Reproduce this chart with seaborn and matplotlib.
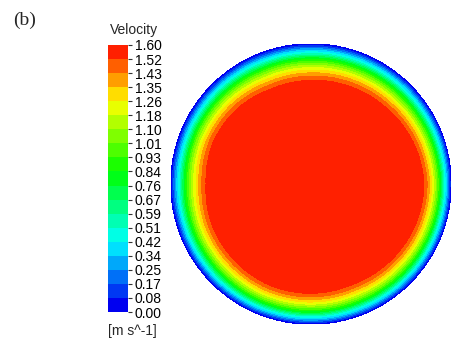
import numpy as np
import matplotlib
matplotlib.use("Agg")
import matplotlib.pyplot as plt
from matplotlib.colors import LinearSegmentedColormap, ListedColormap, BoundaryNorm
import seaborn as sns

# Contour levels of the velocity legend (m/s)
v_max = 1.602
tick_labels = ["0.00", "0.08", "0.17", "0.25", "0.34", "0.42", "0.51", "0.59",
               "0.67", "0.76", "0.84", "0.93", "1.01", "1.10", "1.18", "1.26",
               "1.35", "1.43", "1.52", "1.60"]

# Radial velocity profile: distance from the pipe wall (px at R = 140) -> velocity
wall_dist_px = [0, 2, 4, 6, 9, 13, 17, 21, 25, 29, 34, 50, 140]
velocity = [0.0, 0.10, 0.22, 0.34, 0.50, 0.76, 0.98, 1.15, 1.30, 1.42, 1.53, 1.575, 1.60]

# Boundary-layer thickness factor around the section (deg, counter-clockwise from +x)
angle_deg = [0, 22.5, 45, 67.5, 90, 112.5, 135, 157.5,
             180, 202.5, 225, 247.5, 270, 292.5, 315, 337.5]
thickness = [0.82, 0.90, 1.00, 1.06, 1.10, 1.12, 1.05, 1.02,
             1.06, 1.00, 0.97, 0.93, 0.93, 0.95, 0.90, 0.85]

# Rainbow legend colours (blue -> cyan -> green -> yellow -> red), 19 bands
anchors = [(0.0, "#0000f0"), (4.5 / 18, "#00ffff"), (9.5 / 18, "#00ff00"),
           (14.5 / 18, "#ffff00"), (1.0, "#ff2000")]

sns.set_theme(style="white")
plt.rcParams["font.family"] = ["Liberation Sans", "DejaVu Sans"]

n_bands = len(tick_labels) - 1
levels = np.linspace(0.0, v_max, n_bands + 1)
base = LinearSegmentedColormap.from_list("fluent", anchors)
cmap = ListedColormap([base(i / (n_bands - 1)) for i in range(n_bands)])
norm = BoundaryNorm(levels, cmap.N)

# Velocity field on the circular cross-section
R_px = 140.0
n = 700
x = np.linspace(-1.0, 1.0, n)
X, Y = np.meshgrid(x, x)
r = np.hypot(X, Y)
theta = np.degrees(np.arctan2(Y, X)) % 360
fac = np.interp(theta, angle_deg, thickness, period=360)
d = np.clip(1.0 - r, 0, None) * R_px / fac
U = np.interp(d, wall_dist_px, velocity)
U = np.ma.masked_where(r > 1.0, U)

W, H = 452, 345
fig = plt.figure(figsize=(W / 100, H / 100), dpi=100)
fig.patch.set_facecolor("white")

ax = fig.add_axes([171 / W, 1 - 324 / H, 280 / W, 280 / H])
cf = ax.contourf(X, Y, U, levels=levels, cmap=cmap, norm=norm)
cf.set_edgecolor("face")
cf.set_linewidth(0.6)
ax.set_xlim(-1.0, 1.0)
ax.set_ylim(-1.0, 1.0)
ax.set_aspect("equal")
ax.axis("off")

cax = fig.add_axes([108 / W, 1 - 312 / H, 20 / W, 267 / H])
cbar = fig.colorbar(cf, cax=cax, ticks=levels, drawedges=False)
cbar.outline.set_visible(False)
cbar.ax.set_yticklabels(tick_labels)
cbar.ax.tick_params(direction="out", length=3, width=0.8, color="#333333",
                    labelsize=10, pad=2, labelcolor="black")

fig.text(13 / W, 1 - 20 / H, "(b)", family=["Liberation Serif", "DejaVu Serif"],
         fontsize=14, va="center", ha="left")
fig.text(110 / W, 1 - 30 / H, "Velocity", fontsize=10, va="center", ha="left")
fig.text(108 / W, 1 - 331 / H, "[m s^-1]", fontsize=10, va="center", ha="left")

fig.savefig("out.png", dpi=100, facecolor="white")
